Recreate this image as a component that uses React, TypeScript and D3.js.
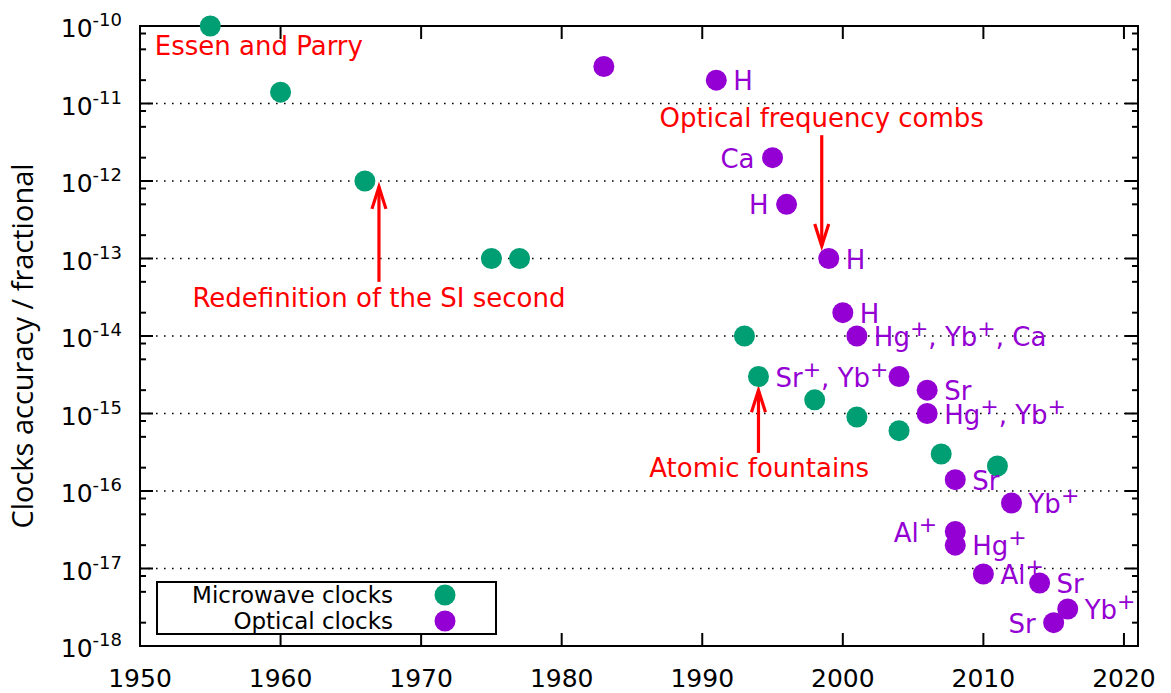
import React from "react";
import * as d3 from "d3";

const microwaveYears = [1955, 1960, 1966, 1975, 1977, 1993, 1994, 1998, 2001, 2004, 2007, 2011];
const microwaveValues = [1e-10, 1.4e-11, 1e-12, 1e-13, 1e-13, 1e-14, 3e-15, 1.5e-15, 9e-16, 6e-16, 3e-16, 2.1e-16];

const opticalYears = [1983, 1991, 1995, 1996, 1999, 2000, 2001, 2004, 2006, 2006, 2008, 2012, 2008, 2008, 2010, 2014, 2016, 2015];
const opticalValues = [3e-11, 2e-11, 2e-12, 5e-13, 1e-13, 2e-14, 1e-14, 3e-15, 2e-15, 1e-15, 1.4e-16, 7e-17, 3e-17, 2e-17, 8.5e-18, 6.5e-18, 3e-18, 2e-18];

const labelTexts = ["H", "Ca", "H", "H", "H", "Hg+, Yb+, Ca", "Sr+, Yb+", "Sr", "Hg+, Yb+", "Sr", "Yb+", "Al+", "Hg+", "Al+", "Sr", "Yb+", "Sr"];
const labelYears = [1991, 1995, 1996, 1999, 2000, 2001, 1994, 2006, 2006, 2008, 2012, 2008, 2008, 2010, 2014, 2016, 2015];
const labelValues = [2e-11, 2e-12, 5e-13, 1e-13, 2e-14, 1e-14, 3e-15, 2e-15, 1e-15, 1.4e-16, 7e-17, 3e-17, 2e-17, 8.5e-18, 6.5e-18, 3e-18, 2e-18];
const labelSides = ["r", "l", "l", "r", "r", "r", "r", "r", "r", "r", "r", "l", "r", "r", "r", "r", "l"];

const xTicks = [1950, 1960, 1970, 1980, 1990, 2000, 2010, 2020];
const yExponents = [-10, -11, -12, -13, -14, -15, -16, -17, -18];
const gridExponents = [-11, -12, -13, -14, -15, -16, -17];
const minorMultipliers = [2, 5, 8];

// red annotations: text, year, value (baseline), anchor
const noteTexts = ["Essen and Parry", "Optical frequency combs", "Redefinition of the SI second", "Atomic fountains"];
const noteYears = [1951.05, 1998.5, 1967.0, 1994.05];
const noteValues = [4.2e-11, 5.0e-12, 2.37e-14, 1.52e-16];
const noteAnchors = ["start", "middle", "middle", "middle"];

// arrows: year, tail value, tip value
const arrowYears = [1967.0, 1998.5, 1994.0];
const arrowTails = [5.0e-14, 3.9e-12, 3.1e-16];
const arrowTips = [8.4e-13, 1.45e-13, 2.0e-15];

const GREEN = "#009e73";
const PURPLE = "#9400d3";
const RED = "#ff0000";
const FONT = "DejaVu Sans";

const x = d3.scaleLinear().domain([1950, 2021]).range([140, 1138]);
const y = d3.scaleLog().domain([1e-10, 1e-18]).range([26, 646]);

function SupText({ text, fs, supFs, rise }: { text: string; fs: number; supFs: number; rise: number }) {
  const parts = text.split("+");
  const out: any[] = [];
  parts.forEach((p, i) => {
    if (p.length) {
      out.push(
        <tspan key={"p" + i} fontSize={fs} dy={i > 0 ? rise : undefined}>{p}</tspan>
      );
    }
    if (i < parts.length - 1) {
      out.push(<tspan key={"s" + i} fontSize={supFs} dy={-rise}>+</tspan>);
    }
  });
  return <>{out}</>;
}

export default function App() {
  const left = 140, right = 1138, top = 26, bottom = 646;
  const r = 10.5;
  return (
    <svg width={1171} height={693} style={{ position: "absolute", left: 0, top: 0, background: "#fff" }} fontFamily={FONT}>
      <rect x={0} y={0} width={1171} height={693} fill="#fff" />
      {/* grid */}
      {gridExponents.map((e) => (
        <line key={"g" + e} x1={left} x2={right} y1={y(Math.pow(10, e))} y2={y(Math.pow(10, e))}
          stroke="#000" strokeWidth={1.6} strokeDasharray="1.6,6.4" />
      ))}
      {/* frame */}
      <rect x={left} y={top} width={right - left} height={bottom - top} fill="none" stroke="#000" strokeWidth={2} />
      {/* x ticks */}
      {xTicks.map((t) => (
        <g key={"xt" + t}>
          <line x1={x(t)} x2={x(t)} y1={bottom} y2={bottom - 13} stroke="#000" strokeWidth={2} />
          <line x1={x(t)} x2={x(t)} y1={top} y2={top + 13} stroke="#000" strokeWidth={2} />
          <text x={x(t)} y={687} textAnchor="middle" fontSize={25} fill="#000">{t}</text>
        </g>
      ))}
      {/* y ticks */}
      {yExponents.map((e) => {
        const yy = y(Math.pow(10, e));
        return (
          <g key={"yt" + e}>
            <line x1={left} x2={left + 13} y1={yy} y2={yy} stroke="#000" strokeWidth={2} />
            <line x1={right} x2={right - 13} y1={yy} y2={yy} stroke="#000" strokeWidth={2} />
            <text x={122} y={yy + 11} textAnchor="end" fill="#000" fontSize={25}>
              <tspan fontSize={25}>10</tspan>
              <tspan fontSize={18} dy={-11}>{"-" + Math.abs(e)}</tspan>
            </text>
          </g>
        );
      })}
      {yExponents.slice(1).map((e) =>
        minorMultipliers.map((m) => {
          const yy = y(m * Math.pow(10, e));
          return (
            <g key={"ym" + e + "_" + m}>
              <line x1={left} x2={left + 6} y1={yy} y2={yy} stroke="#000" strokeWidth={2} />
              <line x1={right} x2={right - 6} y1={yy} y2={yy} stroke="#000" strokeWidth={2} />
            </g>
          );
        })
      )}
      {/* y label */}
      <text transform="translate(33,346) rotate(-90)" textAnchor="middle" fontSize={29} fontFamily="Open Sans" fill="#000">
        Clocks accuracy / fractional
      </text>
      {/* arrows */}
      {arrowYears.map((yr, i) => {
        const ax = x(yr);
        const y0 = y(arrowTails[i]);
        const y1 = y(arrowTips[i]);
        const dir = y1 < y0 ? 1 : -1;
        const hl = 22, hw = 7;
        return (
          <g key={"a" + i} stroke={RED} strokeWidth={3.2} fill="none">
            <line x1={ax} x2={ax} y1={y0} y2={y1} />
            <polyline points={`${ax - hw},${y1 + dir * hl} ${ax},${y1} ${ax + hw},${y1 + dir * hl}`} />
          </g>
        );
      })}
      {/* notes */}
      {noteTexts.map((t, i) => (
        <text key={"n" + i} x={x(noteYears[i])} y={y(noteValues[i])} textAnchor={noteAnchors[i] as any}
          fontSize={26} fill={RED}>{t}</text>
      ))}
      {/* points */}
      {microwaveYears.map((yr, i) => (
        <circle key={"m" + i} cx={x(yr)} cy={y(microwaveValues[i])} r={r} fill={GREEN} />
      ))}
      {opticalYears.map((yr, i) => (
        <circle key={"o" + i} cx={x(yr)} cy={y(opticalValues[i])} r={r} fill={PURPLE} />
      ))}
      {/* point labels */}
      {labelTexts.map((t, i) => {
        const px = x(labelYears[i]);
        const py = y(labelValues[i]);
        const isLeft = labelSides[i] === "l";
        return (
          <text key={"l" + i} x={isLeft ? px - 18 : px + 17} y={py + 10} textAnchor={isLeft ? "end" : "start"}
            fill={PURPLE} fontSize={26}>
            <SupText text={t} fs={26} supFs={22} rise={10} />
          </text>
        );
      })}
      {/* legend */}
      <rect x={157} y={582} width={339} height={52} fill="#fff" stroke="#000" strokeWidth={2} />
      <text x={393} y={603} textAnchor="end" fontSize={23} fill="#000">Microwave clocks</text>
      <text x={393} y={629} textAnchor="end" fontSize={23} fill="#000">Optical clocks</text>
      <circle cx={445} cy={595} r={r} fill={GREEN} />
      <circle cx={445} cy={621} r={r} fill={PURPLE} />
    </svg>
  );
}
